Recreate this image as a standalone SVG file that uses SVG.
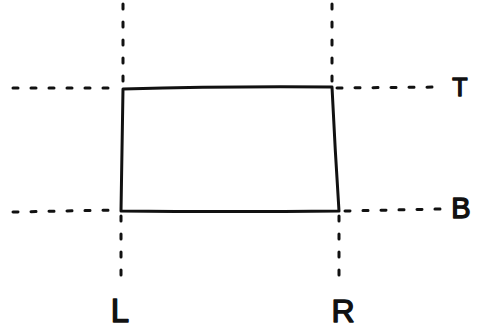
<svg xmlns="http://www.w3.org/2000/svg" width="478" height="336" viewBox="0 0 478 336">
<style>
.box{fill:none;stroke:#111;stroke-width:3;stroke-linecap:round;stroke-linejoin:round}
.guide{fill:none;stroke:#111;stroke-width:3;stroke-linecap:round;stroke-dasharray:5 13}
.lbl{font-family:"Liberation Sans",Arial,sans-serif;fill:#111;stroke:#111;stroke-width:1.4;stroke-linejoin:round;text-anchor:middle}
</style>
<rect width="478" height="336" fill="#fff"/>
<g id="guides">
<path class="guide" d="M123 4 L123 84"/>
<path class="guide" d="M332 4 L332 84"/>
<path class="guide" d="M121 216 L121 282"/>
<path class="guide" d="M339 216 L339 276"/>
<path class="guide" d="M13 88 L118 88"/>
<path class="guide" d="M337 88 L440 87"/>
<path class="guide" d="M13 212 L116 210"/>
<path class="guide" d="M345 211 L440 209"/>
</g>
<g id="rect">
<path class="box" d="M123 89 Q230 86 332 87 Q335 150 339 211 Q230 212 121 211 Q122 150 123 89 Z"/>
</g>
<g id="label-T"><text class="lbl" x="460" y="96" font-size="25">T</text></g>
<g id="label-B"><text class="lbl" x="461" y="218" font-size="29">B</text></g>
<g id="label-L"><text class="lbl" x="120" y="322" font-size="33">L</text></g>
<g id="label-R"><text class="lbl" x="343" y="322" font-size="32">R</text></g>
</svg>
